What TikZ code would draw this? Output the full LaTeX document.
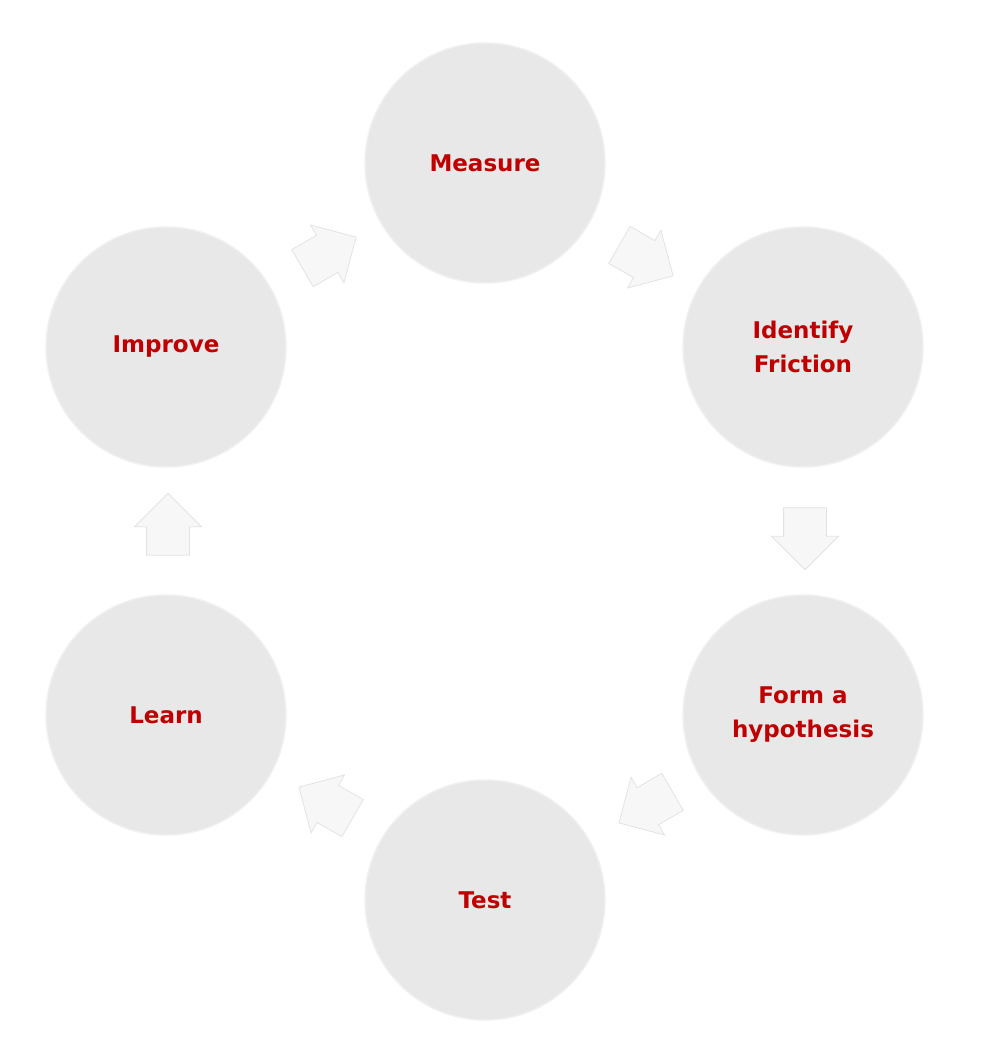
\documentclass[tikz,border=0pt]{standalone}
\usepackage{fontspec}
\setmainfont{DejaVu Sans}
\usetikzlibrary{shapes.arrows}
\definecolor{txt}{HTML}{C00000}
\definecolor{cfill}{HTML}{E8E8E8}
\begin{document}
\begin{tikzpicture}[x=1pt,y=-1pt,
  stage/.style={circle,minimum size=240pt,inner sep=0pt,fill=cfill,draw=gray!12,line width=1.5pt,
    font=\bfseries\fontsize{23}{34}\selectfont,text=txt,align=center},
  arr/.style={single arrow,fill=gray!6,draw=gray!22,line width=0.8pt,minimum height=62pt,text height=42pt,text depth=0pt,text width=0pt,single arrow head extend=12pt,inner sep=0pt}]
\useasboundingbox (0,0) rectangle (988,1048);
\node[stage] (m) at (485,163) {Measure};
\node[stage] (f) at (803,347) {Identify\\Friction};
\node[stage] (h) at (803,715) {Form a\\hypothesis};
\node[stage] (t) at (485,900) {Test};
\node[stage] (l) at (166,715) {Learn};
\node[stage] (i) at (166,347) {Improve};
\node[arr,rotate=-30] (a1) at (637,255) {};
\node[arr,rotate=-90] (a2) at (805,528) {};
\node[arr,rotate=-150] (a3) at (655,802) {};
\node[arr,rotate=150] (a4) at (335,808) {};
\node[arr,rotate=90] (a5) at (168,535) {};
\node[arr,rotate=30] (a6) at (320,258) {};
\end{tikzpicture}
\end{document}
